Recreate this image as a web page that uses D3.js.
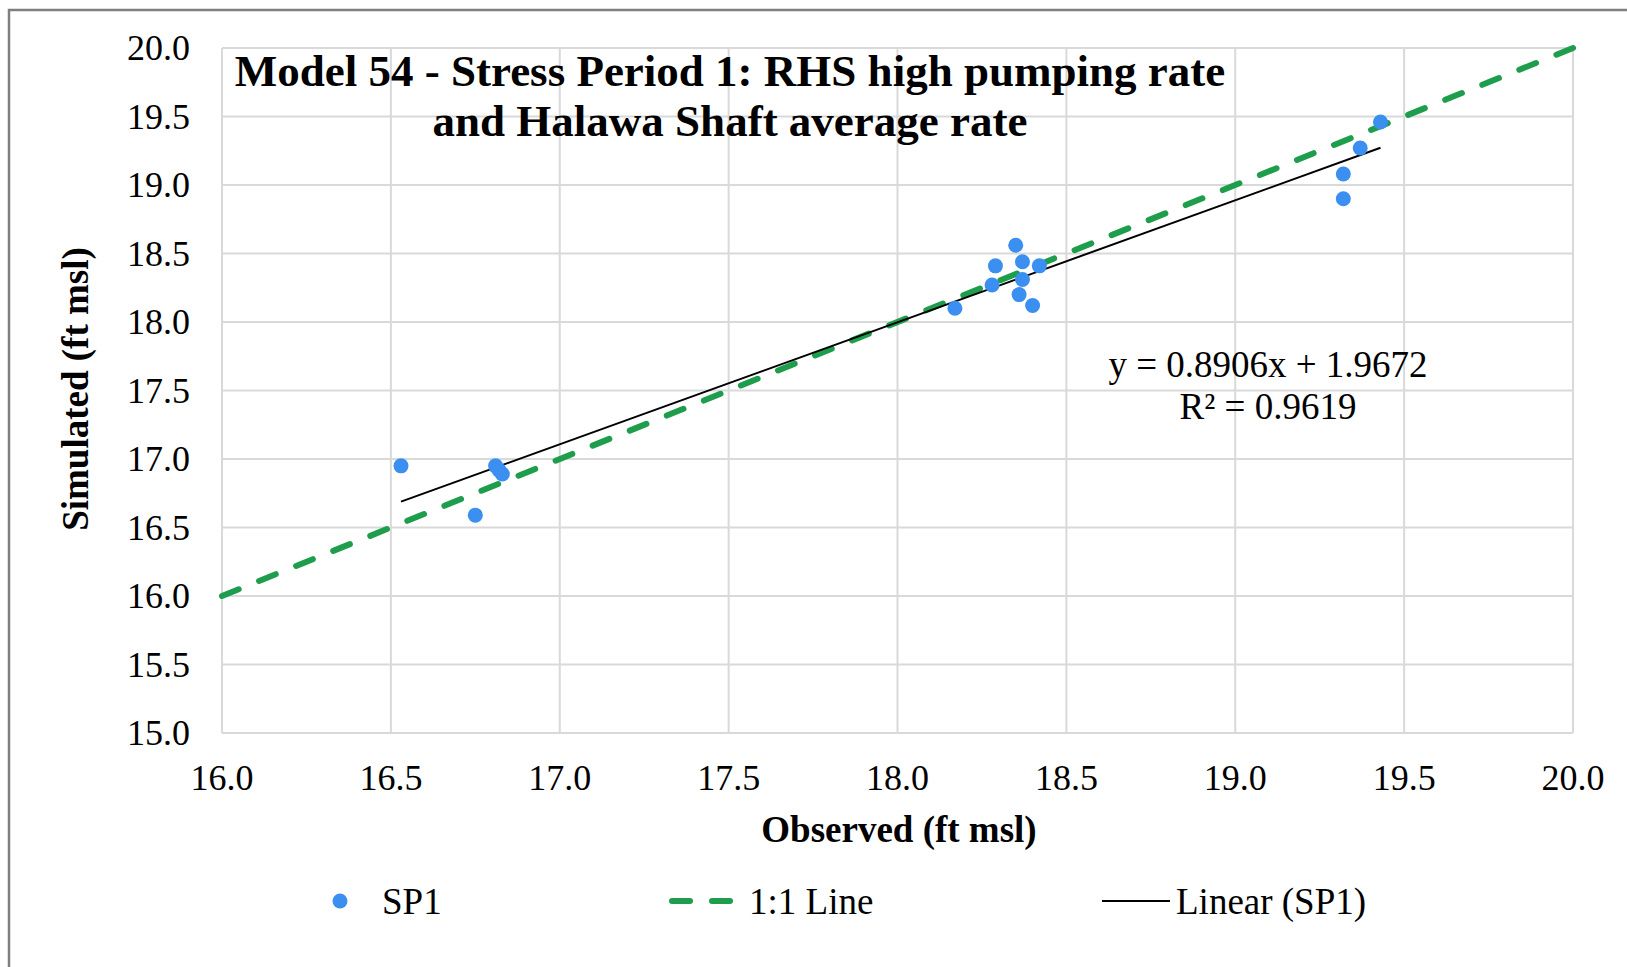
<!DOCTYPE html>
<html>
<head>
  <title>Model 54 - Stress Period 1</title>
  <script src="https://d3js.org/d3.v7.min.js"></script>
  <style>
    body { margin: 0; background: #fff; }
    text { font-family: "Liberation Serif", "Times New Roman", serif; fill: #000; }
  </style>
</head>
<body>
  <svg id="chart"></svg>

  <script>
    // observed / simulated heads (ft msl)
    var observed  = [16.53, 16.75, 16.81, 16.82, 16.83, 18.17, 18.28, 18.29, 18.35, 18.37, 18.37, 18.36, 18.40, 18.42, 19.32, 19.32, 19.37, 19.43];
    var simulated = [16.95, 16.59, 16.95, 16.92, 16.89, 18.10, 18.27, 18.41, 18.56, 18.44, 18.31, 18.20, 18.12, 18.41, 18.90, 19.08, 19.27, 19.46];
    var xTicks = [16.0, 16.5, 17.0, 17.5, 18.0, 18.5, 19.0, 19.5, 20.0];
    var yTicks = [15.0, 15.5, 16.0, 16.5, 17.0, 17.5, 18.0, 18.5, 19.0, 19.5, 20.0];
    var oneToOne = [16, 20];
    var slope = 0.8906, intercept = 1.9672, r2 = 0.9619;

    var width = 1627, height = 967;
    var svg = d3.select("#chart").attr("width", width).attr("height", height);

    // outer chart frame
    svg.append("rect")
      .attr("x", 9).attr("y", 10)
      .attr("width", width + 10).attr("height", height + 10)
      .attr("fill", "#fff").attr("stroke", "#7f7f7f").attr("stroke-width", 2.5);

    var pLeft = 222, pRight = 1573, pTop = 48, pBottom = 733;
    var x = d3.scaleLinear().domain([16, 20]).range([pLeft, pRight]);
    var y = d3.scaleLinear().domain([15, 20]).range([pBottom, pTop]);

    // gridlines
    svg.selectAll("line.vgrid").data(xTicks).enter().append("line")
      .attr("x1", d => x(d)).attr("x2", d => x(d))
      .attr("y1", pTop).attr("y2", pBottom)
      .attr("stroke", "#d9d9d9").attr("stroke-width", 2);
    svg.selectAll("line.hgrid").data(yTicks).enter().append("line")
      .attr("x1", pLeft).attr("x2", pRight)
      .attr("y1", d => y(d)).attr("y2", d => y(d))
      .attr("stroke", "#d9d9d9").attr("stroke-width", 2);

    // tick labels
    svg.selectAll("text.xt").data(xTicks).enter().append("text")
      .attr("x", d => x(d)).attr("y", pBottom + 57)
      .attr("text-anchor", "middle").attr("font-size", 36)
      .text(d => d.toFixed(1));
    svg.selectAll("text.yt").data(yTicks).enter().append("text")
      .attr("x", pLeft - 32).attr("y", d => y(d) + 12)
      .attr("text-anchor", "end").attr("font-size", 36)
      .text(d => d.toFixed(1));

    // 1:1 line
    svg.append("line")
      .attr("x1", x(oneToOne[0])).attr("y1", y(oneToOne[0]))
      .attr("x2", x(oneToOne[1])).attr("y2", y(oneToOne[1]))
      .attr("stroke", "#1e9e4c").attr("stroke-width", 6)
      .attr("stroke-dasharray", "18,22").attr("stroke-linecap", "round");

    // linear trend (SP1)
    var xmin = d3.min(observed), xmax = d3.max(observed);
    svg.append("line")
      .attr("x1", x(xmin)).attr("y1", y(slope * xmin + intercept))
      .attr("x2", x(xmax)).attr("y2", y(slope * xmax + intercept))
      .attr("stroke", "#000").attr("stroke-width", 2);

    // points
    svg.selectAll("circle.pt").data(observed).enter().append("circle")
      .attr("cx", d => x(d)).attr("cy", (d, i) => y(simulated[i]))
      .attr("r", 7.5).attr("fill", "#3b8ff0");

    // title
    svg.append("text").attr("x", 730).attr("y", 86)
      .attr("text-anchor", "middle").attr("font-size", 45).attr("font-weight", "bold")
      .text("Model 54 - Stress Period 1: RHS high pumping rate");
    svg.append("text").attr("x", 730).attr("y", 136)
      .attr("text-anchor", "middle").attr("font-size", 45).attr("font-weight", "bold")
      .text("and Halawa Shaft average rate");

    // equation
    svg.append("text").attr("x", 1268).attr("y", 377)
      .attr("text-anchor", "middle").attr("font-size", 37)
      .text("y = " + slope.toFixed(4) + "x + " + intercept.toFixed(4));
    svg.append("text").attr("x", 1268).attr("y", 419)
      .attr("text-anchor", "middle").attr("font-size", 37)
      .text("R² = " + r2.toFixed(4));

    // axis titles
    svg.append("text").attr("x", 899).attr("y", 842)
      .attr("text-anchor", "middle").attr("font-size", 37).attr("font-weight", "bold")
      .text("Observed (ft msl)");
    svg.append("text")
      .attr("transform", "translate(88," + 389 + ") rotate(-90)")
      .attr("text-anchor", "middle").attr("font-size", 37).attr("font-weight", "bold")
      .text("Simulated (ft msl)");

    // legend
    var ly = 901;
    svg.append("circle").attr("cx", 340).attr("cy", ly).attr("r", 7.5).attr("fill", "#3b8ff0");
    svg.append("text").attr("x", 382).attr("y", ly + 13).attr("font-size", 37).text("SP1");
    svg.append("line").attr("x1", 672).attr("x2", 738).attr("y1", ly).attr("y2", ly)
      .attr("stroke", "#1e9e4c").attr("stroke-width", 6)
      .attr("stroke-dasharray", "18,22").attr("stroke-linecap", "round");
    svg.append("text").attr("x", 749).attr("y", ly + 13).attr("font-size", 37).text("1:1 Line");
    svg.append("line").attr("x1", 1102).attr("x2", 1170).attr("y1", ly).attr("y2", ly)
      .attr("stroke", "#000").attr("stroke-width", 2);
    svg.append("text").attr("x", 1176).attr("y", ly + 13).attr("font-size", 37).text("Linear (SP1)");
  </script>
</body>
</html>
